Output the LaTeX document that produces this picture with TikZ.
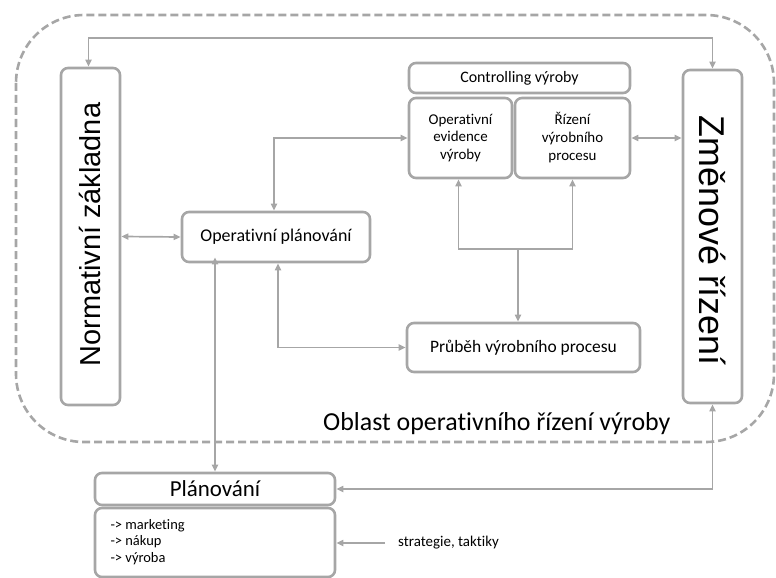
\documentclass[tikz,border=0pt]{standalone}
\usepackage{fontspec}
\setmainfont{Carlito}[Ligatures=NoCommon]
\newfontfamily\arialfont{Liberation Sans}
\usetikzlibrary{arrows.meta}
\definecolor{linegray}{RGB}{166,166,166}

\tikzset{
  box/.style={draw=linegray, line width=2.6bp, rounded corners=7bp, fill=white,
    align=center, inner sep=0pt},
  conn/.style={draw=linegray, line width=1.7bp},
}

\begin{document}
\begin{tikzpicture}[x=1bp, y=-1bp, >={Triangle[length=7bp,width=6bp]}]
        \useasboundingbox (0,0) rectangle (776,578);

        % dashed area
        \draw[linegray, line width=2.6bp, dash pattern=on 8bp off 4bp, rounded corners=68bp]
            (16,15) rectangle (774,442);
        \node[anchor=base west, inner sep=0pt, font=\fontsize{26}{30}\selectfont] (oblast) at (323,430)
            {Oblast operativního řízení výroby};

        % boxes
        \node[box, minimum width=59bp, minimum height=337bp] (normbox) at (90.5,236.5) {};
        \node[rotate=90, font=\arialfont\fontsize{29}{32}\selectfont] (normtext) at ([yshift=2bp]normbox.center) {Normativní základna};
        \node[box, minimum width=59bp, minimum height=333bp] (zmenbox) at (712.5,236.5) {};
        \node[rotate=-90, font=\arialfont\fontsize{36}{38}\selectfont] (zmentext) at ([yshift=-4bp]zmenbox.center) {Změnové řízení};

        \node[box, minimum width=221bp, minimum height=30bp, font=\fontsize{16}{18}\selectfont] (ctrl) at (519.5,78) {Controlling výroby};
        \node[box, minimum width=103bp, minimum height=80bp, font=\fontsize{15}{18}\selectfont] (evid) at (460.5,138) {Operativní\\evidence\\výroby};
        \node[box, minimum width=115bp, minimum height=80bp, font=\fontsize{15}{18}\selectfont] (rizeni) at (572.5,138) {Řízení\\výrobního\\procesu};
        \node[box, minimum width=188bp, minimum height=50bp, font=\fontsize{18}{20}\selectfont] (opplan) at (276,237) {Operativní plánování};
        \node[box, minimum width=233bp, minimum height=49bp, font=\fontsize{17.5}{20}\selectfont] (prubeh) at (523.5,347.5) {Průběh výrobního procesu};
        \node[box, minimum width=240bp, minimum height=32bp, font=\fontsize{23}{25}\selectfont] (plan) at (215,489) {Plánování};
        \node[box, minimum width=240bp, minimum height=69bp] (planlist) at (215,542.5) {};
        \node[anchor=west, align=left, font=\fontsize{14.5}{16.5}\selectfont] (listtext) at (107,542)
            {-> marketing\\-> nákup\\-> výroba};
        \node[anchor=west, inner xsep=13bp, font=\fontsize{15}{17}\selectfont] (strat) at (385,543) {strategie, taktiky};

        % connectors
        \coordinate (toprail) at (400,38);
        \coordinate (fork) at (518,249);
        \draw[conn, <->] ([xshift=-2bp]normbox.north) -- ([xshift=-2bp]normbox.north |- toprail) -| (zmenbox.north);
        \draw[conn, <->] (normbox.east) -- (opplan.west);
        \draw[conn, <->] ([xshift=-2bp]opplan.north) |- (evid.west);
        \draw[conn, <->] ([xshift=2bp]opplan.south) |- (prubeh.west);
        \draw[conn, <->] ([xshift=-2bp]evid.south) |- (fork) -| (rizeni.south);
        \draw[conn, ->] (fork) -- (fork |- prubeh.north);
        \draw[conn, <->] (rizeni.east) -- (rizeni.east -| zmenbox.west);
        \draw[conn, <->] (plan.north) -- ([yshift=6bp]plan.north |- opplan.south);
        \draw[conn, <->] (zmenbox.south) |- (plan.east);
        \draw[conn, ->] (strat.west) -- (strat.west -| planlist.east);
    \end{tikzpicture}
\end{document}
